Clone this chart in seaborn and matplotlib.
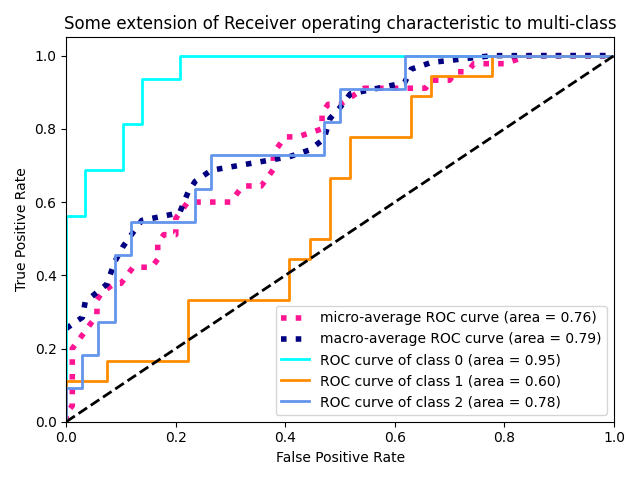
import matplotlib
matplotlib.use("Agg")
import matplotlib.pyplot as plt
import seaborn as sns

# Class 0 ROC
fpr0 = [0.0, 0.0, 0.0345, 0.0345, 0.1034, 0.1034, 0.1379, 0.1379, 0.2069, 0.2069, 1.0]
tpr0 = [0.0, 0.5625, 0.5625, 0.6875, 0.6875, 0.8125, 0.8125, 0.9375, 0.9375, 1.0, 1.0]

# Class 1 ROC
fpr1 = [0.0, 0.0, 0.0741, 0.0741, 0.2222, 0.2222, 0.4074, 0.4074, 0.4444, 0.4444,
        0.4815, 0.4815, 0.5185, 0.5185, 0.6296, 0.6296, 0.6667, 0.6667, 0.7778, 0.7778, 1.0]
tpr1 = [0.0, 0.1111, 0.1111, 0.1667, 0.1667, 0.3333, 0.3333, 0.4444, 0.4444, 0.5,
        0.5, 0.6667, 0.6667, 0.7778, 0.7778, 0.8889, 0.8889, 0.9444, 0.9444, 1.0, 1.0]

# Class 2 ROC
fpr2 = [0.0, 0.0, 0.0294, 0.0294, 0.0588, 0.0588, 0.0882, 0.0882, 0.1176, 0.1176,
        0.2353, 0.2353, 0.2647, 0.2647, 0.4706, 0.4706, 0.5, 0.5, 0.6176, 0.6176, 1.0]
tpr2 = [0.0, 0.0909, 0.0909, 0.1818, 0.1818, 0.2727, 0.2727, 0.4545, 0.4545, 0.5455,
        0.5455, 0.6364, 0.6364, 0.7273, 0.7273, 0.8182, 0.8182, 0.9091, 0.9091, 1.0, 1.0]

# Macro-average ROC
fpr_macro = [0.0, 0.0294, 0.0345, 0.0588, 0.0741, 0.0882, 0.1034, 0.1176, 0.1379, 0.2069,
             0.2222, 0.2353, 0.2647, 0.4074, 0.4444, 0.4706, 0.4815, 0.5, 0.5185, 0.6176,
             0.6296, 0.6667, 0.7778, 1.0]
tpr_macro = [0.2548, 0.2851, 0.3268, 0.3571, 0.3756, 0.4362, 0.4779, 0.5082, 0.5499, 0.5707,
             0.6263, 0.6566, 0.6869, 0.7239, 0.7424, 0.7727, 0.8283, 0.8586, 0.8956, 0.9259,
             0.9630, 0.9815, 1.0, 1.0]

# Micro-average ROC
fpr_micro = [0.0, 0.0, 0.011, 0.011, 0.022, 0.033, 0.044, 0.056, 0.056, 0.067, 0.089, 0.100,
             0.111, 0.122, 0.156, 0.167, 0.167, 0.178, 0.200, 0.200, 0.211, 0.222, 0.300,
             0.322, 0.356, 0.378, 0.378, 0.389, 0.400, 0.422, 0.467, 0.467, 0.478, 0.500,
             0.522, 0.544, 0.656, 0.667, 0.700, 0.711, 0.733, 0.744, 0.800, 0.844, 1.0]
tpr_micro = [0.0, 0.022, 0.044, 0.200, 0.222, 0.244, 0.267, 0.289, 0.333, 0.356, 0.378, 0.378,
             0.400, 0.422, 0.422, 0.444, 0.489, 0.511, 0.511, 0.556, 0.578, 0.600, 0.600,
             0.644, 0.644, 0.689, 0.733, 0.756, 0.778, 0.778, 0.800, 0.844, 0.867, 0.867,
             0.889, 0.911, 0.911, 0.933, 0.933, 0.956, 0.956, 0.978, 0.978, 1.0, 1.0]

auc_micro, auc_macro = 0.76, 0.79
auc_classes = [0.95, 0.60, 0.78]
class_colors = ["aqua", "darkorange", "cornflowerblue"]

fig, ax = plt.subplots(figsize=(6.4, 4.8), dpi=100)

sns.lineplot(x=fpr_micro, y=tpr_micro, sort=False, estimator=None, ax=ax,
             color="deeppink", linestyle=":", linewidth=4,
             label="micro-average ROC curve (area = {0:0.2f})".format(auc_micro))
sns.lineplot(x=fpr_macro, y=tpr_macro, sort=False, estimator=None, ax=ax,
             color="navy", linestyle=":", linewidth=4,
             label="macro-average ROC curve (area = {0:0.2f})".format(auc_macro))

for i, (fx, ty) in enumerate([(fpr0, tpr0), (fpr1, tpr1), (fpr2, tpr2)]):
    sns.lineplot(x=fx, y=ty, sort=False, estimator=None, ax=ax,
                 color=class_colors[i], linewidth=2,
                 label="ROC curve of class {0} (area = {1:0.2f})".format(i, auc_classes[i]))

ax.plot([0, 1], [0, 1], "k--", lw=2)
ax.set_xlim([0.0, 1.0])
ax.set_ylim([0.0, 1.05])
ax.set_xlabel("False Positive Rate")
ax.set_ylabel("True Positive Rate")
ax.set_title("Some extension of Receiver operating characteristic to multi-class")
ax.legend(loc="lower right")
fig.tight_layout()
fig.savefig("out.png", dpi=100)
